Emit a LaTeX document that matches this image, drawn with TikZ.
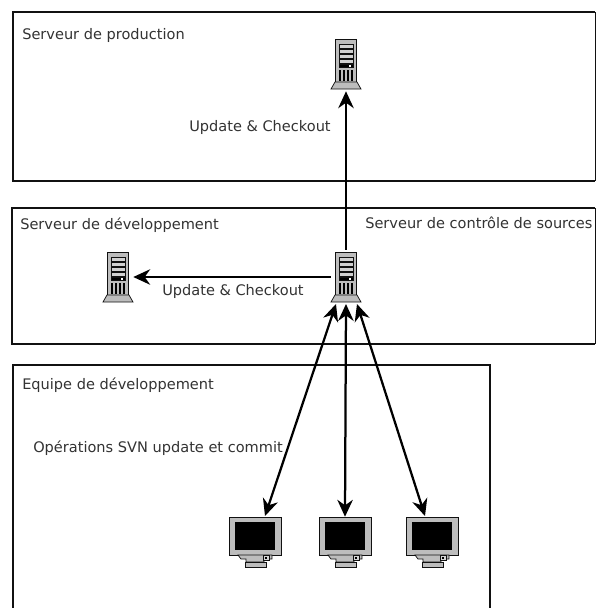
\documentclass[tikz,border=0pt]{standalone}
\usepackage{fontspec}
\setmainfont{DejaVu Sans}
\usepackage{xcolor}
\usetikzlibrary{arrows.meta}
\definecolor{ink}{HTML}{111111}
\definecolor{bodygray}{HTML}{BDBDBD}
\definecolor{labgray}{HTML}{333333}
\newdimen\pxu
\pxu=0.025cm
\tikzset{
  zone/.style={draw=ink, line width=1.8pt},
  lab/.style={text=labgray, font=\fontsize{10.35}{12}\selectfont, inner sep=0pt, anchor=base west},
  link/.style={draw=black, line width=1.6pt, -{Stealth[length=12pt,width=11pt]}},
  both/.style={draw=black, line width=1.6pt, {Stealth[length=12pt,width=11pt]}-{Stealth[length=12pt,width=11pt]}},
  part/.style={draw=ink, line width=0.5pt, fill=bodygray},
  srvnode/.style={inner sep=0pt, minimum width=30\pxu, minimum height=54\pxu},
  monnode/.style={inner sep=0pt, minimum width=52\pxu, minimum height=50\pxu},
  pics/srv/.style={code={
    \draw[part] (-10.5,-25) rectangle (10.5,18);
    \foreach \y in {-20,-15,-10,-5}{\draw[part,fill=bodygray!70] (-7,\y) rectangle (7,\y+4);}
    \draw[part,fill=black] (-7,0) rectangle (7,3.5);
    \fill[white] (3,0.5) rectangle (5,2.5);
    \foreach \x in {-6,-2,2,6}{\fill[black] (\x-1,6) rectangle (\x+1,17);}
    \draw[part] (-11,18) -- (11,18) -- (15,25) -- (-15,25) -- cycle;
  }},
  pics/mon/.style={code={
    \draw[part] (-26,-25) rectangle (26,13);
    \fill[black] (-20,-20) rectangle (20,8);
    \draw[part] (-17,13) -- (17,13) -- (17,17) -- (9,17) -- (9,20) -- (-9,20) -- (-9,17) -- (-14,17) -- cycle;
    \draw[part] (-10,20) rectangle (11,25);
    \draw[part,fill=bodygray!60] (8,13) rectangle (14,18);
    \fill[black] (10,14.5) rectangle (12,16.5);
  }},
}
\begin{document}
\begin{tikzpicture}[x=0.025cm,y=-0.025cm]
  \useasboundingbox (0,0) rectangle (596,608);
  \clip (0,0) rectangle (596,608);
  \fill[white] (0,0) rectangle (596,608);

  \draw[zone] (13,12) -- (595,12);
  \draw[zone] (13,181) -- (595,181);
  \draw[zone] (13,11) -- (13,182);
  \draw[draw=ink, line width=0.6pt] (595,12) -- (595,181);
  \draw[zone] (12,208) -- (595,208);
  \draw[zone] (12,344) -- (595,344);
  \draw[zone] (12,207) -- (12,345);
  \draw[draw=ink, line width=0.6pt] (595,208) -- (595,344);
  \draw[zone] (13,365) rectangle (490,620);

  \node[lab] (prodlab) at (22,39) {Serveur de production};
  \node[lab] (devlab) at (20,229) {Serveur de développement};
  \node[lab] (srclab) at (365,228) {Serveur de contrôle de sources};
  \node[lab] (teamlab) at (22,389) {Equipe de développement};

  \node[srvnode] (prod) at (346,64) {};
  \node[srvnode] (src) at (346,277) {};
  \node[srvnode] (dev) at (118,277) {};
  \node[monnode] (mon1) at (255,542) {};
  \node[monnode] (mon2) at (345,542) {};
  \node[monnode] (mon3) at (432,542) {};

  \pic at (prod) {srv};
  \pic at (src) {srv};
  \pic at (dev) {srv};
  \pic at (mon1) {mon};
  \pic at (mon2) {mon};
  \pic at (mon3) {mon};

  \draw[link] (src) -- (prod);
  \draw[link] (src) -- (dev);
  \coordinate (srcl) at (336,304);
  \coordinate (srcm) at (346,304);
  \coordinate (srcr) at (357,304);
  \coordinate (tip1) at (265,516);
  \coordinate (tip3) at (425,516);
  \draw[both] (srcl) -- (tip1);
  \draw[both] (srcm) -- (mon2.north);
  \draw[both] (srcr) -- (tip3);

  \node[lab] (uplab1) at (189,131) {Update \& Checkout};
  \node[lab] (uplab2) at (162,295) {Update \& Checkout};
  \node[lab] (svnlab) at (33,452) {Opérations SVN update et commit};
\end{tikzpicture}
\end{document}
